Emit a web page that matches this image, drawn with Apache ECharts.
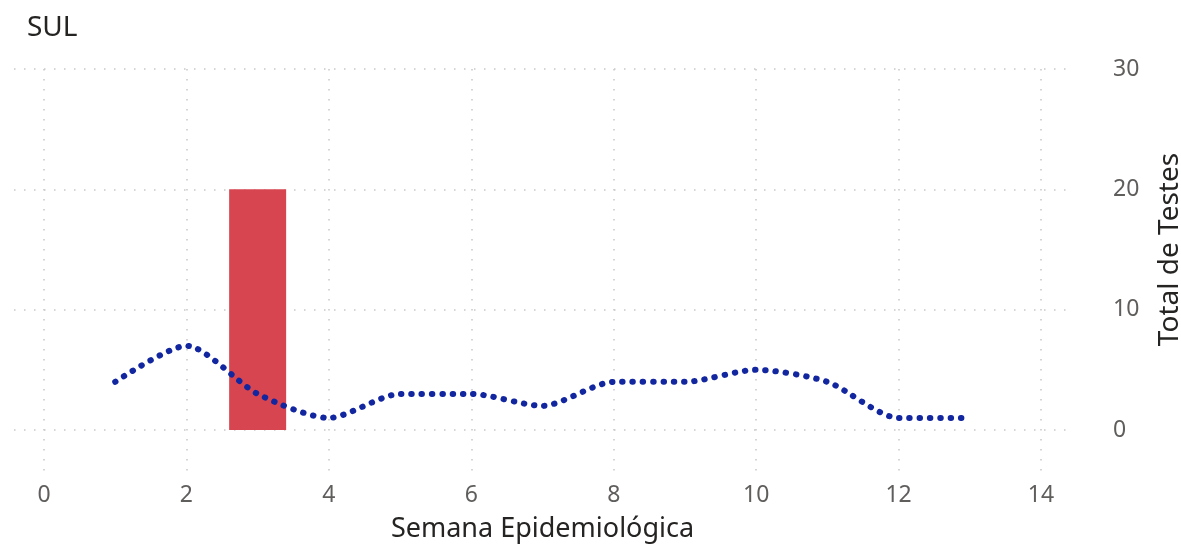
<!DOCTYPE html>
<html>
<head>
<meta charset="utf-8">
<script src="https://cdn.jsdelivr.net/npm/echarts@6/dist/echarts.min.js"></script>
<style>
  html, body { margin: 0; padding: 0; background: #fff; }
  #chart { width: 1181px; height: 547px; }
</style>
</head>
<body>
<div id="chart"></div>
<script>
// weeks and values
const weeks = [1, 2, 3, 4, 5, 6, 7, 8, 9, 10, 11, 12, 13];
const lineValues = [4, 7, 3, 1, 3, 3, 2, 4, 4, 5, 4, 1, 1];
const barWeeks = [3];
const barValues = [20];
const yTicks = [0, 10, 20, 30];

const FONT = '"Noto Sans", "Open Sans", sans-serif';
const GRID_COLOR = '#c8c8c8';
const dotted = { color: GRID_COLOR, width: 1.5, type: [1.5, 8.5] };

const chart = echarts.init(document.getElementById('chart'));

const option = {
  backgroundColor: '#fff',
  animation: false,
  title: {
    text: 'SUL',
    left: 22,
    top: 9,
    textStyle: { fontFamily: FONT, fontSize: 28, fontWeight: 'normal', color: '#252423' },
  },
  grid: [
    // data grid
    { left: 44, right: 140, top: 69, height: 361, outerBoundsMode: 'none', containLabel: false },
    // vertical grid lines (taller)
    { left: 44, right: 140, top: 69, bottom: 75, outerBoundsMode: 'none', containLabel: false },
    // horizontal grid lines (wider)
    { left: 14, right: 111, top: 69, height: 361, outerBoundsMode: 'none', containLabel: false },
  ],
  xAxis: [
    {
      gridIndex: 0,
      type: 'value',
      min: 0,
      max: 14,
      interval: 2,
      axisLine: { show: false },
      axisTick: { show: false },
      splitLine: { show: false },
      axisLabel: { margin: 54, fontFamily: FONT, fontSize: 23, color: '#605E5C' },
      name: 'Semana Epidemiológica',
      nameLocation: 'middle',
      nameGap: 86,
      nameTextStyle: { fontFamily: FONT, fontSize: 27, color: '#252423' },
    },
    {
      gridIndex: 1,
      type: 'value',
      min: 0,
      max: 14,
      interval: 2,
      axisLine: { show: false },
      axisTick: { show: false },
      axisLabel: { show: false },
      splitLine: { show: true, lineStyle: dotted },
    },
    {
      gridIndex: 2,
      type: 'value',
      min: 0,
      max: 1,
      show: false,
    },
  ],
  yAxis: [
    {
      gridIndex: 0,
      type: 'value',
      min: 0,
      max: 30,
      interval: 10,
      show: false,
    },
    {
      gridIndex: 1,
      type: 'value',
      show: false,
    },
    {
      gridIndex: 2,
      type: 'value',
      position: 'right',
      min: yTicks[0],
      max: yTicks[yTicks.length - 1],
      interval: 10,
      axisLine: { show: false },
      axisTick: { show: false },
      splitLine: { show: true, lineStyle: dotted },
      axisLabel: { margin: 43, fontFamily: FONT, fontSize: 23, color: '#605E5C' },
      name: 'Total de Testes',
      nameLocation: 'middle',
      nameRotate: 90,
      nameGap: 86,
      nameTextStyle: { fontFamily: FONT, fontSize: 28, color: '#252423' },
    },
  ],
  series: [
    {
      type: 'bar',
      xAxisIndex: 0,
      yAxisIndex: 0,
      data: barWeeks.map((w, i) => [w, barValues[i]]),
      barWidth: 57,
      itemStyle: { color: '#D64550' },
    },
    {
      type: 'line',
      xAxisIndex: 0,
      yAxisIndex: 0,
      data: weeks.map((w, i) => [w, lineValues[i]]),
      smooth: 0.25,
      showSymbol: false,
      lineStyle: { color: '#1226A0', width: 6, type: [0.5, 9.8], cap: 'round' },
      z: 3,
    },
  ],
};

chart.setOption(option);
</script>
</body>
</html>
